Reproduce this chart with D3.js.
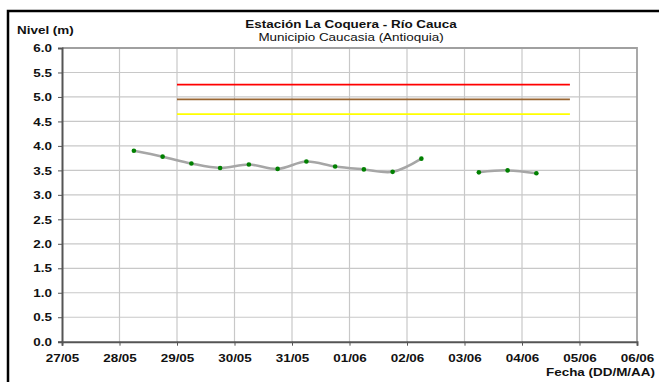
<!DOCTYPE html>
<html><head><meta charset="utf-8">
<script src="https://cdn.jsdelivr.net/npm/d3@7"></script>
<style>
body{margin:0;background:#fff;}
svg{display:block;font-family:"Liberation Sans",Arial,sans-serif;}
</style></head>
<body><svg id="c" width="659" height="382"></svg>
<script>
const times = ["2009-05-28T06:00","2009-05-28T18:00","2009-05-29T06:00","2009-05-29T18:00","2009-05-30T06:00","2009-05-30T18:00","2009-05-31T06:00","2009-05-31T18:00","2009-06-01T06:00","2009-06-01T18:00","2009-06-02T06:00","2009-06-02T18:00","2009-06-03T06:00","2009-06-03T18:00","2009-06-04T06:00"];
const nivel = [3.90,3.78,3.64,3.55,3.62,3.53,3.68,3.58,3.52,3.47,3.74,null,3.46,3.50,3.44];
const umbralStart = "2009-05-29T00:00";
const umbralEnd = "2009-06-04T20:00";
const umbralNames = ["Rojo","Naranja","Amarillo"];
const umbralValues = [5.25,4.95,4.65];
const umbralColors = ["#ff0000","#996633","#ffff00"];
const xTickDates = ["2009-05-27","2009-05-28","2009-05-29","2009-05-30","2009-05-31","2009-06-01","2009-06-02","2009-06-03","2009-06-04","2009-06-05","2009-06-06"];
const yTicks = [0,0.5,1,1.5,2,2.5,3,3.5,4,4.5,5,5.5,6];

const SX = 1.17;
const parse = d3.isoParse;
const svg = d3.select("#c");
const L=62, R=637, T=48, B=341.7;
const x = d3.scaleTime().domain([parse("2009-05-27T00:00"), parse("2009-06-06T00:00")]).range([L,R]);
const y = d3.scaleLinear().domain([0,6]).range([B,T]);

// outer frame
svg.append("path").attr("d",`M8,700 L8,11 L700,11`).attr("fill","none").attr("stroke","#000").attr("stroke-width",2.5);

// grid
const g = svg.append("g");
g.selectAll("line.h").data(yTicks.slice(1)).join("line")
 .attr("x1",L).attr("x2",R).attr("y1",d=>y(d)).attr("y2",d=>y(d))
 .attr("stroke","#c8c8c8").attr("stroke-width",1.2);
g.selectAll("line.v").data(xTickDates.slice(1,-1)).join("line")
 .attr("x1",d=>x(parse(d))).attr("x2",d=>x(parse(d))).attr("y1",T).attr("y2",B)
 .attr("stroke","#c8c8c8").attr("stroke-width",1.2);
svg.append("path").attr("d",`M${L},${T} L${R},${T} L${R},${B}`).attr("fill","none").attr("stroke","#a0a0a0").attr("stroke-width",1.8);

// thresholds
umbralValues.forEach((v,i)=>{
  svg.append("line").attr("x1",x(parse(umbralStart))).attr("x2",x(parse(umbralEnd)))
   .attr("y1",y(v)).attr("y2",y(v)).attr("stroke",umbralColors[i]).attr("stroke-width",1.8);
});

// series
const data = times.map((t,i)=>({t:parse(t),v:nivel[i]}));
const line = d3.line().defined(d=>d.v!=null).x(d=>x(d.t)).y(d=>y(d.v)).curve(d3.curveCatmullRom.alpha(0.5));
svg.append("path").datum(data).attr("d",line).attr("fill","none").attr("stroke","#a6a6a6").attr("stroke-width",2.5);
svg.selectAll("circle.m").data(data.filter(d=>d.v!=null)).join("circle")
 .attr("cx",d=>x(d.t)).attr("cy",d=>y(d.v)).attr("r",2.3).attr("fill","#008000");

// axes
const yAxis = d3.axisLeft(y).tickValues(yTicks).tickFormat(d3.format(".1f")).tickSize(4).tickPadding(8);
const ya = svg.append("g").attr("transform",`translate(${L},0)`).call(yAxis);
ya.select(".domain").attr("stroke","#555").attr("stroke-width",2);
ya.selectAll(".tick line").attr("stroke","#555");
ya.selectAll("text").attr("x",null).attr("transform",`translate(-10,0) scale(${SX},1)`)
 .attr("font-size","11.5px").attr("font-weight","bold").attr("fill","#111").attr("font-family","Liberation Sans, Arial, sans-serif");

const xAxis = d3.axisBottom(x).tickValues(xTickDates.map(parse)).tickFormat(d3.timeFormat("%d/%m")).tickSize(4).tickPadding(8);
const xa = svg.append("g").attr("transform",`translate(0,${B})`).call(xAxis);
xa.select(".domain").attr("stroke","#555").attr("stroke-width",2);
xa.selectAll(".tick line").attr("stroke","#555");
xa.selectAll("text").attr("transform",`scale(${SX},1)`)
 .attr("font-size","11.5px").attr("font-weight","bold").attr("fill","#111").attr("font-family","Liberation Sans, Arial, sans-serif");

// titles
function label(tx,ty,anchor,bold,str){
  svg.append("text").attr("transform",`translate(${tx},${ty}) scale(${SX},1)`).attr("text-anchor",anchor)
   .attr("font-size","11.5px").attr("font-weight",bold?"bold":"normal").attr("fill","#111").text(str);
}
label(351,28,"middle",true,"Estación La Coquera - Río Cauca");
label(351,41,"middle",false,"Municipio Caucasia (Antioquia)");
label(17,34,"start",true,"Nivel (m)");
label(655,376,"end",true,"Fecha (DD/M/AA)");
</script></body></html>
